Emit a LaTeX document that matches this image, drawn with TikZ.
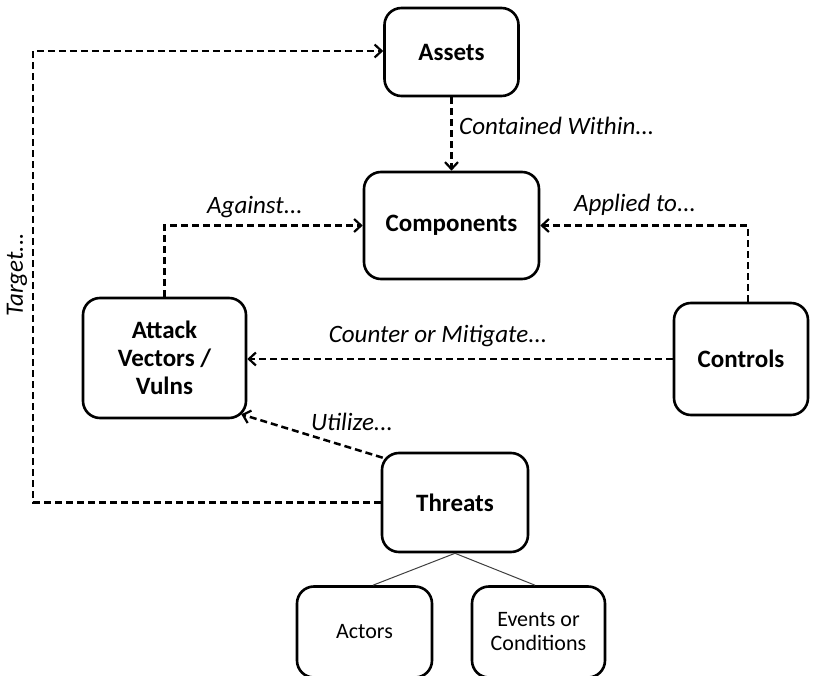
\documentclass[tikz,border=0pt]{standalone}
\usepackage{fontspec}
\setmainfont{Carlito}
\usetikzlibrary{arrows.meta,calc}
\begin{document}
\begin{tikzpicture}[x=1pt,y=-1pt,
  box/.style={draw, line width=2.6pt, rounded corners=17pt, align=center, inner sep=0pt},
  mainbox/.style={box, font=\fontsize{25}{28}\selectfont\bfseries},
  subbox/.style={box, font=\fontsize{22}{24}\selectfont},
  rel/.style={line width=2.5pt, dash pattern=on 7pt off 4pt, -{Straight Barb[length=7pt,width=13pt,line width=2.2pt]}},
  lbl/.style={font=\fontsize{25}{28}\selectfont\itshape, inner sep=0pt},
  sub/.style={line width=1pt, draw=black!75}
]
\clip (0,0) rectangle (817,676);
\fill[white] (0,0) rectangle (817,676);

\node[mainbox, minimum width=134pt, minimum height=88pt] (assets) at (451.5,52) {Assets};
\node[mainbox, minimum width=175pt, minimum height=107pt] (comp) at (451.5,225.5) {Components};
\node[mainbox, minimum width=163pt, minimum height=120pt] (atk) at (164.5,358) {Attack\\Vectors /\\Vulns};
\node[mainbox, minimum width=134pt, minimum height=112pt] (ctl) at (741,359) {Controls};
\node[mainbox, minimum width=146pt, minimum height=99pt] (thr) at (455,502.5) {Threats};
\node[subbox, minimum width=135pt, minimum height=91pt] (act) at (364.5,632) {Actors};
\node[subbox, minimum width=133pt, minimum height=91pt] (evt) at (538.5,632) {Events or\\Conditions};

\coordinate (tb) at (33,502.5);
\coordinate (tt) at (33,51);

% connectors
\draw[rel] (assets.south) -- (comp.north);
\draw[rel] (atk.north) |- (comp.west);
\draw[rel] ($(ctl.north)+(7,0)$) |- (comp.east);
\draw[rel] (ctl.west) -- (ctl.west -| atk.east);
\draw[rel] ($(thr.north west)+(2,6)$) -- ($(atk.south east)+(-6,-5)$);
\draw[rel] (thr.west) -- (tb) -- (tt) -- (tt -| assets.west);

\draw[sub] (thr.south) -- ($(act.north)+(8.5,0)$);
\draw[sub] (thr.south) -- ($(evt.north)+(-3.5,0)$);

% labels
\node[lbl, anchor=west] (lcont) at (459,126) {Contained Within...};
\node[lbl] (lag) at (255,207) {Against...};
\node[lbl] (lapp) at (635,205) {Applied to...};
\node[lbl] (lcnt) at (438,336) {Counter or Mitigate...};
\node[lbl] (lut) at (352,422) {Utilize...};
\node[lbl, rotate=90] (ltar) at (17,275) {Target...};
\end{tikzpicture}
\end{document}
